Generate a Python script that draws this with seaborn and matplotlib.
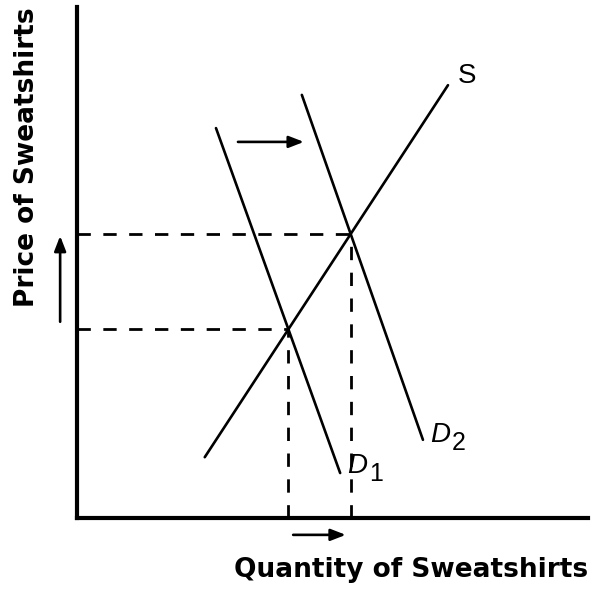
import numpy as np
import pandas as pd
import matplotlib
matplotlib.use("Agg")
import matplotlib.pyplot as plt
import seaborn as sns

# curve endpoints (x, y) in 0-100 chart units
curve_names = ["S", "D1", "D2"]
curve_x = [[25.0, 72.6], [27.2, 51.5], [44.0, 67.7]]
curve_y = [[11.9, 84.7], [76.3, 8.8], [82.8, 15.3]]
label_main = ["S", "D", "D"]
label_sub = ["", "1", "2"]
label_x = [74.5, 52.8, 69.1]
label_y = [86.5, 10.2, 16.2]

# shift arrows: (x_start, y_start, x_end, y_end)
demand_arrow = [31.5, 73.6, 44.4, 73.6]
qty_arrow = [42.3, -3.3, 52.6, -3.3]
price_arrow = [-3.3, 38.4, -3.3, 55.2]

sns.set_style("white")
plt.rcParams["font.family"] = ["Liberation Sans", "DejaVu Sans"]
plt.rcParams["text.color"] = "black"

rows = []
for name, xs, ys in zip(curve_names, curve_x, curve_y):
    for x, y in zip(xs, ys):
        rows.append({"curve": name, "x": x, "y": y})
df = pd.DataFrame(rows)

fig = plt.figure(figsize=(5.92, 5.91), dpi=100)
ax = fig.add_axes([77 / 592, (591 - 518) / 591, (588 - 77) / 592, (518 - 7) / 591])

sns.lineplot(data=df, x="x", y="y", hue="curve", palette=["black"] * 3,
             linewidth=1.9, legend=False, ax=ax, estimator=None, sort=False)


def line_params(name):
    i = curve_names.index(name)
    (x0, x1), (y0, y1) = curve_x[i], curve_y[i]
    m = (y1 - y0) / (x1 - x0)
    return m, y0 - m * x0


def intersect(a, b):
    m1, b1 = line_params(a)
    m2, b2 = line_params(b)
    x = (b2 - b1) / (m1 - m2)
    return x, m1 * x + b1


for d in ["D1", "D2"]:
    ex, ey = intersect("S", d)
    ax.plot([0, ex], [ey, ey], color="black", lw=2.0, dashes=(4.8, 4.5))
    ax.plot([ex, ex], [0, ey], color="black", lw=2.0, dashes=(4.8, 4.5))

for main, sub, lx, ly in zip(label_main, label_sub, label_x, label_y):
    style = "italic" if sub else "normal"
    t = ax.text(lx, ly, main, fontsize=20, ha="left", va="center", style=style,
                family="Liberation Sans", color="black")
    if sub:
        ax.annotate(sub, xy=(1.0, 0.0), xycoords=t, xytext=(1.5, -5),
                    textcoords="offset points", fontsize=18, ha="left",
                    va="bottom", family="Liberation Sans", color="black")

for a in [demand_arrow, qty_arrow, price_arrow]:
    ax.annotate("", xy=(a[2], a[3]), xytext=(a[0], a[1]),
                arrowprops=dict(arrowstyle="-|>,head_length=0.9,head_width=0.35",
                                color="black", lw=1.9, shrinkA=0, shrinkB=0),
                annotation_clip=False)

ax.set_xlim(0, 100)
ax.set_ylim(0, 100)
ax.set_xticks([])
ax.set_yticks([])
ax.set_xlabel("")
ax.set_ylabel("")
sns.despine(ax=ax)
for s in ["left", "bottom"]:
    ax.spines[s].set_linewidth(3.0)
    ax.spines[s].set_color("black")

fig.text(588 / 592, 1 - 570 / 591, "Quantity of Sweatshirts", ha="right",
         va="center", fontsize=19, fontweight="bold", family="DejaVu Sans",
         color="black")
fig.text(27 / 592, 1 - 157 / 591, "Price of Sweatshirts", ha="center",
         va="center", rotation=90, fontsize=19, fontweight="bold",
         family="DejaVu Sans", color="black")

fig.savefig("out.png", dpi=100)
